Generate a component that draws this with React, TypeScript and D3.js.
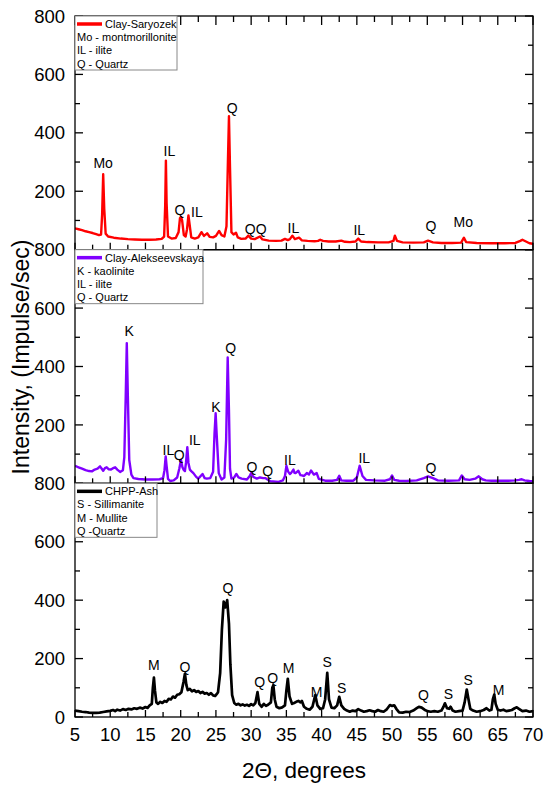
import React from "react";
import * as d3 from "d3";

// ---------- DATA ----------
const xTickValues = [5, 10, 15, 20, 25, 30, 35, 40, 45, 50, 55, 60, 65, 70];
const yTickValues = [0, 200, 400, 600, 800];

const seriesNames = ["Clay-Saryozek", "Clay-Alekseevskaya", "CHPP-Ash"];
const seriesColors = ["#ff0000", "#8000ff", "#000000"];

const legendLines1 = ["Mo - montmorillonite", "IL - ilite", "Q - Quartz"];
const legendLines2 = ["K - kaolinite", "IL - ilite", "Q - Quartz"];
const legendLines3 = ["S - Sillimanite", "M - Mullite", "Q -Quartz"];

// Clay-Saryozek: [2θ, intensity]
const saryozek: [number, number][] = [
  [5.0, 73], [5.5, 70], [6.0, 67], [6.5, 63], [7.0, 60], [7.5, 57], [8.0, 53], [8.4, 50], [8.7, 52],
  [8.85, 120], [9.0, 258], [9.15, 140], [9.35, 55], [9.7, 45], [10.5, 41], [11.5, 38], [12.5, 36],
  [13.5, 35], [14.5, 34], [15.5, 34], [16.5, 35], [17.3, 37], [17.65, 45], [17.8, 150], [17.9, 305],
  [18.0, 160], [18.2, 45], [18.7, 38], [19.3, 40], [19.7, 60], [19.9, 108], [20.05, 112], [20.2, 100],
  [20.45, 50], [20.7, 45], [20.9, 70], [21.1, 117], [21.3, 80], [21.5, 42], [22.0, 38], [22.5, 42],
  [22.95, 60], [23.3, 47], [23.75, 56], [24.1, 44], [24.6, 42], [25.0, 47], [25.45, 64], [25.8, 50],
  [26.2, 45], [26.5, 80], [26.7, 300], [26.85, 457], [27.0, 280], [27.2, 60], [27.5, 52], [27.85, 58],
  [28.1, 42], [28.6, 37], [29.2, 38], [29.6, 48], [30.0, 38], [30.5, 36], [31.25, 45], [31.6, 35],
  [32.5, 31], [33.5, 30], [34.3, 31], [34.8, 37], [35.2, 33], [35.5, 36], [35.85, 48], [36.2, 36],
  [36.8, 41], [37.2, 32], [38.0, 30], [39.0, 29], [39.5, 30], [39.8, 34], [40.2, 30], [41.0, 28],
  [42.0, 28], [42.8, 31], [43.3, 27], [44.0, 26], [44.8, 28], [45.2, 38], [45.6, 28], [46.5, 26],
  [48.0, 25], [49.5, 25], [50.2, 30], [50.4, 48], [50.7, 30], [51.5, 25], [53.0, 24], [54.5, 25],
  [55.1, 31], [55.8, 25], [57.0, 23], [58.5, 23], [59.8, 24], [60.2, 41], [60.5, 26], [62.0, 23],
  [64.0, 22], [66.0, 22], [67.5, 23], [68.2, 30], [68.5, 34], [69.0, 28], [69.5, 22], [70.0, 20],
];

// Clay-Alekseevskaya
const alekseevskaya: [number, number][] = [
  [5.0, 60], [5.5, 55], [6.0, 50], [6.5, 45], [7.0, 42], [7.4, 41], [7.8, 47], [8.2, 50], [8.55, 58],
  [8.8, 50], [9.0, 43], [9.25, 52], [9.5, 55], [9.8, 48], [10.1, 47], [10.4, 52], [10.7, 55], [11.0, 47],
  [11.4, 39], [11.8, 45], [12.0, 90], [12.2, 300], [12.35, 480], [12.5, 300], [12.7, 80], [13.0, 30],
  [13.3, 18], [14.0, 15], [15.0, 13], [16.0, 13], [17.0, 14], [17.5, 18], [17.7, 45], [17.87, 92],
  [18.0, 60], [18.2, 15], [18.5, 8], [19.0, 10], [19.5, 20], [19.8, 50], [20.04, 80], [20.25, 55],
  [20.4, 47], [20.6, 42], [20.75, 70], [20.94, 124], [21.1, 70], [21.3, 47], [21.5, 42], [21.8, 35],
  [22.2, 22], [22.5, 16], [23.1, 32], [23.4, 18], [23.7, 16], [24.2, 18], [24.6, 40], [24.8, 170],
  [24.96, 240], [25.1, 170], [25.4, 35], [25.8, 13], [26.2, 20], [26.45, 150], [26.67, 431], [26.85, 250],
  [27.0, 50], [27.2, 16], [27.6, 20], [27.9, 32], [28.2, 20], [28.65, 16], [29.4, 13], [29.8, 25],
  [30.0, 35], [30.3, 22], [30.8, 16], [31.25, 20], [31.7, 18], [32.0, 18], [32.7, 7], [33.9, 5],
  [34.5, 10], [34.8, 25], [35.0, 60], [35.25, 40], [35.5, 32], [35.65, 35], [36.0, 47], [36.15, 36],
  [36.3, 35], [36.7, 43], [37.0, 28], [37.2, 27], [37.5, 25], [37.9, 35], [38.2, 30], [38.5, 44],
  [38.9, 30], [39.3, 35], [39.6, 15], [40.5, 9], [41.5, 9], [42.2, 12], [42.5, 26], [42.8, 10],
  [43.5, 9], [44.5, 9], [45.0, 20], [45.4, 60], [45.8, 25], [46.3, 12], [47.5, 10], [49.0, 9],
  [49.7, 14], [50.0, 27], [50.3, 12], [51.0, 9], [52.0, 8], [53.5, 10], [54.5, 18], [55.1, 24],
  [55.8, 18], [56.5, 10], [58.0, 9], [59.5, 10], [59.9, 27], [60.3, 14], [61.0, 12], [61.8, 16],
  [62.3, 24], [62.8, 14], [63.3, 10], [64.1, 9], [65.0, 9], [66.5, 9], [67.5, 10], [68.0, 12],
  [68.4, 14], [68.8, 10], [69.5, 8], [70.0, 7],
];

// CHPP-Ash
const chppAsh: [number, number][] = [
  [5.0, 22], [5.5, 20], [6.0, 18], [6.5, 17], [7.0, 15], [7.5, 14], [8.0, 14], [8.5, 15], [9.0, 17],
  [9.5, 19], [10.0, 21], [10.4, 24], [10.7, 20], [11.0, 25], [11.4, 22], [11.8, 27], [12.2, 24],
  [12.6, 28], [13.0, 26], [13.4, 30], [13.8, 28], [14.2, 32], [14.6, 29], [15.0, 34], [15.3, 31],
  [15.6, 40], [15.9, 45], [16.05, 100], [16.2, 135], [16.35, 90], [16.55, 50], [16.8, 45], [17.1, 52],
  [17.4, 48], [17.7, 55], [18.0, 52], [18.3, 62], [18.6, 60], [18.9, 70], [19.2, 66], [19.5, 76],
  [19.8, 78], [20.1, 85], [20.4, 120], [20.6, 148], [20.8, 110], [21.0, 92], [21.3, 96], [21.6, 88],
  [21.9, 92], [22.2, 86], [22.5, 89], [22.8, 82], [23.1, 86], [23.4, 80], [23.7, 82], [24.0, 76],
  [24.3, 82], [24.6, 74], [24.9, 72], [25.1, 78], [25.3, 85], [25.6, 150], [25.85, 300], [26.1, 395],
  [26.35, 375], [26.6, 400], [26.85, 320], [27.05, 180], [27.3, 75], [27.6, 48], [27.9, 42], [28.2, 45],
  [28.5, 40], [28.8, 43], [29.1, 39], [29.4, 42], [29.7, 38], [30.0, 44], [30.3, 40], [30.6, 48],
  [30.9, 85], [31.15, 45], [31.5, 35], [31.8, 45], [32.1, 38], [32.4, 42], [32.8, 50], [33.0, 100],
  [33.15, 109], [33.35, 60], [33.6, 35], [34.0, 30], [34.4, 33], [34.8, 40], [35.0, 90], [35.2, 131],
  [35.45, 70], [35.8, 45], [36.1, 48], [36.4, 52], [36.7, 55], [37.0, 50], [37.2, 55], [37.5, 35],
  [37.9, 28], [38.3, 25], [38.7, 35], [39.1, 75], [39.4, 40], [39.8, 28], [40.2, 30], [40.5, 60],
  [40.8, 151], [41.05, 60], [41.4, 32], [41.8, 30], [42.2, 40], [42.5, 69], [42.8, 40], [43.2, 28],
  [43.6, 22], [44.0, 18], [44.4, 22], [44.8, 20], [45.2, 27], [45.6, 22], [46.0, 18], [46.4, 20],
  [46.8, 23], [47.2, 20], [47.6, 18], [48.0, 24], [48.4, 20], [48.8, 18], [49.2, 25], [49.7, 41],
  [50.0, 38], [50.3, 40], [50.6, 28], [51.0, 16], [51.5, 15], [52.0, 18], [52.5, 17], [53.0, 22],
  [53.5, 30], [53.8, 35], [54.2, 32], [54.6, 25], [55.0, 20], [55.5, 18], [56.0, 20], [56.5, 18],
  [57.0, 22], [57.3, 35], [57.5, 47], [57.8, 30], [58.1, 28], [58.3, 35], [58.6, 22], [59.0, 18],
  [59.5, 20], [60.0, 22], [60.3, 50], [60.6, 94], [60.85, 60], [61.1, 28], [61.5, 22], [62.0, 18],
  [62.5, 20], [63.0, 24], [63.4, 30], [63.8, 22], [64.1, 25], [64.3, 60], [64.5, 77], [64.7, 45],
  [65.0, 25], [65.4, 22], [65.8, 25], [66.2, 20], [66.6, 22], [67.0, 24], [67.4, 30], [67.7, 33],
  [68.0, 28], [68.5, 20], [69.0, 22], [69.5, 18], [70.0, 20],
];

// Peak labels: [text, 2θ (centre), intensity (baseline)]
const peakLabels1: [string, number, number][] = [
  ["Mo", 9.0, 279], ["IL", 18.4, 320], ["Q", 19.9, 117], ["IL", 22.3, 111], ["Q", 27.3, 467],
  ["QQ", 30.65, 53], ["IL", 36.0, 58], ["IL", 45.35, 51], ["Q", 55.5, 65], ["Mo", 60.1, 76],
];
const peakLabels2: [string, number, number][] = [
  ["K", 12.7, 505], ["IL", 18.25, 96], ["Q", 19.8, 81], ["IL", 22.0, 132], ["K", 25.0, 243],
  ["Q", 27.1, 445], ["Q", 30.1, 38], ["Q", 32.35, 26], ["IL", 35.5, 64], ["IL", 46.05, 69], ["Q", 55.5, 35],
];
const peakLabels3: [string, number, number][] = [
  ["M", 16.2, 160], ["Q", 20.6, 154], ["Q", 26.7, 426], ["Q", 31.2, 103], ["Q", 33.05, 115],
  ["M", 35.3, 149], ["M", 39.3, 69], ["S", 40.8, 171], ["S", 42.85, 81], ["Q", 54.45, 58],
  ["S", 58.0, 61], ["S", 60.8, 111], ["M", 65.1, 77],
];

// ---------- LAYOUT ----------
const W = 550;
const H = 791;
const left = 75;
const right = 533;
const top = 16;
const bottom = 717;
const panelH = (bottom - top) / 3;
const FONT = "'Liberation Sans', Arial, Helvetica, sans-serif";

const x = d3.scaleLinear().domain([5, 70]).range([left, right]);

const panels = [
  { data: saryozek, labels: peakLabels1, legend: legendLines1, legendW: 102, yLabels: yTickValues.slice(1), topTicks: true, sw: 2.4 },
  { data: alekseevskaya, labels: peakLabels2, legend: legendLines2, legendW: 128, yLabels: yTickValues.slice(1), topTicks: false, sw: 2.4 },
  { data: chppAsh, labels: peakLabels3, legend: legendLines3, legendW: 82, yLabels: yTickValues, topTicks: false, sw: 2.7 },
];

const xMinor = d3.range(5, 70.01, 2.5);
const yMinor = d3.range(0, 800.01, 100);

export default function App() {
  return (
    <svg
      width={W}
      height={H}
      style={{ position: "absolute", left: 0, top: 0, background: "#fff" }}
      fontFamily={FONT}
    >
      <rect x={0} y={0} width={W} height={H} fill="#fff" />
      {panels.map((p, i) => {
        const pTop = top + i * panelH;
        const pBot = pTop + panelH;
        const y = d3.scaleLinear().domain([0, 800]).range([pBot, pTop]);
        const line = d3
          .line<[number, number]>()
          .x((d) => x(d[0]))
          .y((d) => y(d[1]));
        return (
          <g key={i}>
            <defs>
              <clipPath id={`clip${i}`}>
                <rect x={left} y={pTop} width={right - left} height={panelH} />
              </clipPath>
            </defs>
            <path
              d={line(p.data) || ""}
              fill="none"
              stroke={seriesColors[i]}
              strokeWidth={p.sw}
              strokeLinejoin="round"
              clipPath={`url(#clip${i})`}
            />
            {/* frame */}
            <rect x={left} y={pTop} width={right - left} height={panelH} fill="none" stroke="#000" strokeWidth={1.3} />
            {/* left/right ticks */}
            {yMinor.map((v) => {
              const major = v % 200 === 0;
              const len = major ? 8 : 5;
              return (
                <g key={`yt${v}`}>
                  <line x1={left} x2={left + len} y1={y(v)} y2={y(v)} stroke="#000" strokeWidth={1.3} />
                  <line x1={right} x2={right - len} y1={y(v)} y2={y(v)} stroke="#000" strokeWidth={1.3} />
                </g>
              );
            })}
            {/* bottom / top ticks */}
            {xMinor.map((v) => {
              const major = v % 5 === 0;
              const len = major ? 7 : 5;
              return (
                <g key={`xt${v}`}>
                  <line x1={x(v)} x2={x(v)} y1={pBot} y2={pBot - len} stroke="#000" strokeWidth={1.3} />
                  {p.topTicks && (
                    <line x1={x(v)} x2={x(v)} y1={pTop} y2={pTop + (major ? 9 : 6)} stroke="#000" strokeWidth={1.3} />
                  )}
                </g>
              );
            })}
            {/* y tick labels */}
            {p.yLabels.map((v) => (
              <text key={`yl${v}`} x={65} y={y(v)} dy="0.36em" textAnchor="end" fontSize={18.5} fill="#000">
                {v}
              </text>
            ))}
            {/* peak labels */}
            {p.labels.map((l, k) => (
              <text key={`pl${k}`} x={x(l[1])} y={y(l[2])} textAnchor="middle" fontSize={14} fill="#000">
                {l[0]}
              </text>
            ))}
            {/* legend */}
            <rect x={left} y={pTop} width={p.legendW} height={54} fill="#fff" stroke="#888" strokeWidth={1} />
            <line x1={left + 2} x2={left + 27} y1={pTop + 8} y2={pTop + 8} stroke={seriesColors[i]} strokeWidth={3.5} />
            <text x={left + 30} y={pTop + 8} dy="0.36em" fontSize={11} fill="#000">
              {seriesNames[i]}
            </text>
            {p.legend.map((t, k) => (
              <text key={`lg${k}`} x={left + 2} y={pTop + 21 + k * 13.3} dy="0.36em" fontSize={11} fill="#000">
                {t}
              </text>
            ))}
          </g>
        );
      })}
      {/* x tick labels */}
      {xTickValues.map((v) => (
        <text key={`xl${v}`} x={x(v)} y={741} textAnchor="middle" fontSize={18.5} fill="#000">
          {v}
        </text>
      ))}
      <text x={304} y={778} textAnchor="middle" fontSize={22.5} fill="#000">
        2Θ, degrees
      </text>
      <text
        transform={`translate(29, 357) rotate(-90)`}
        textAnchor="middle"
        fontSize={23}
        fill="#000"
      >
        Intensity, (Impulse/sec)
      </text>
    </svg>
  );
}
